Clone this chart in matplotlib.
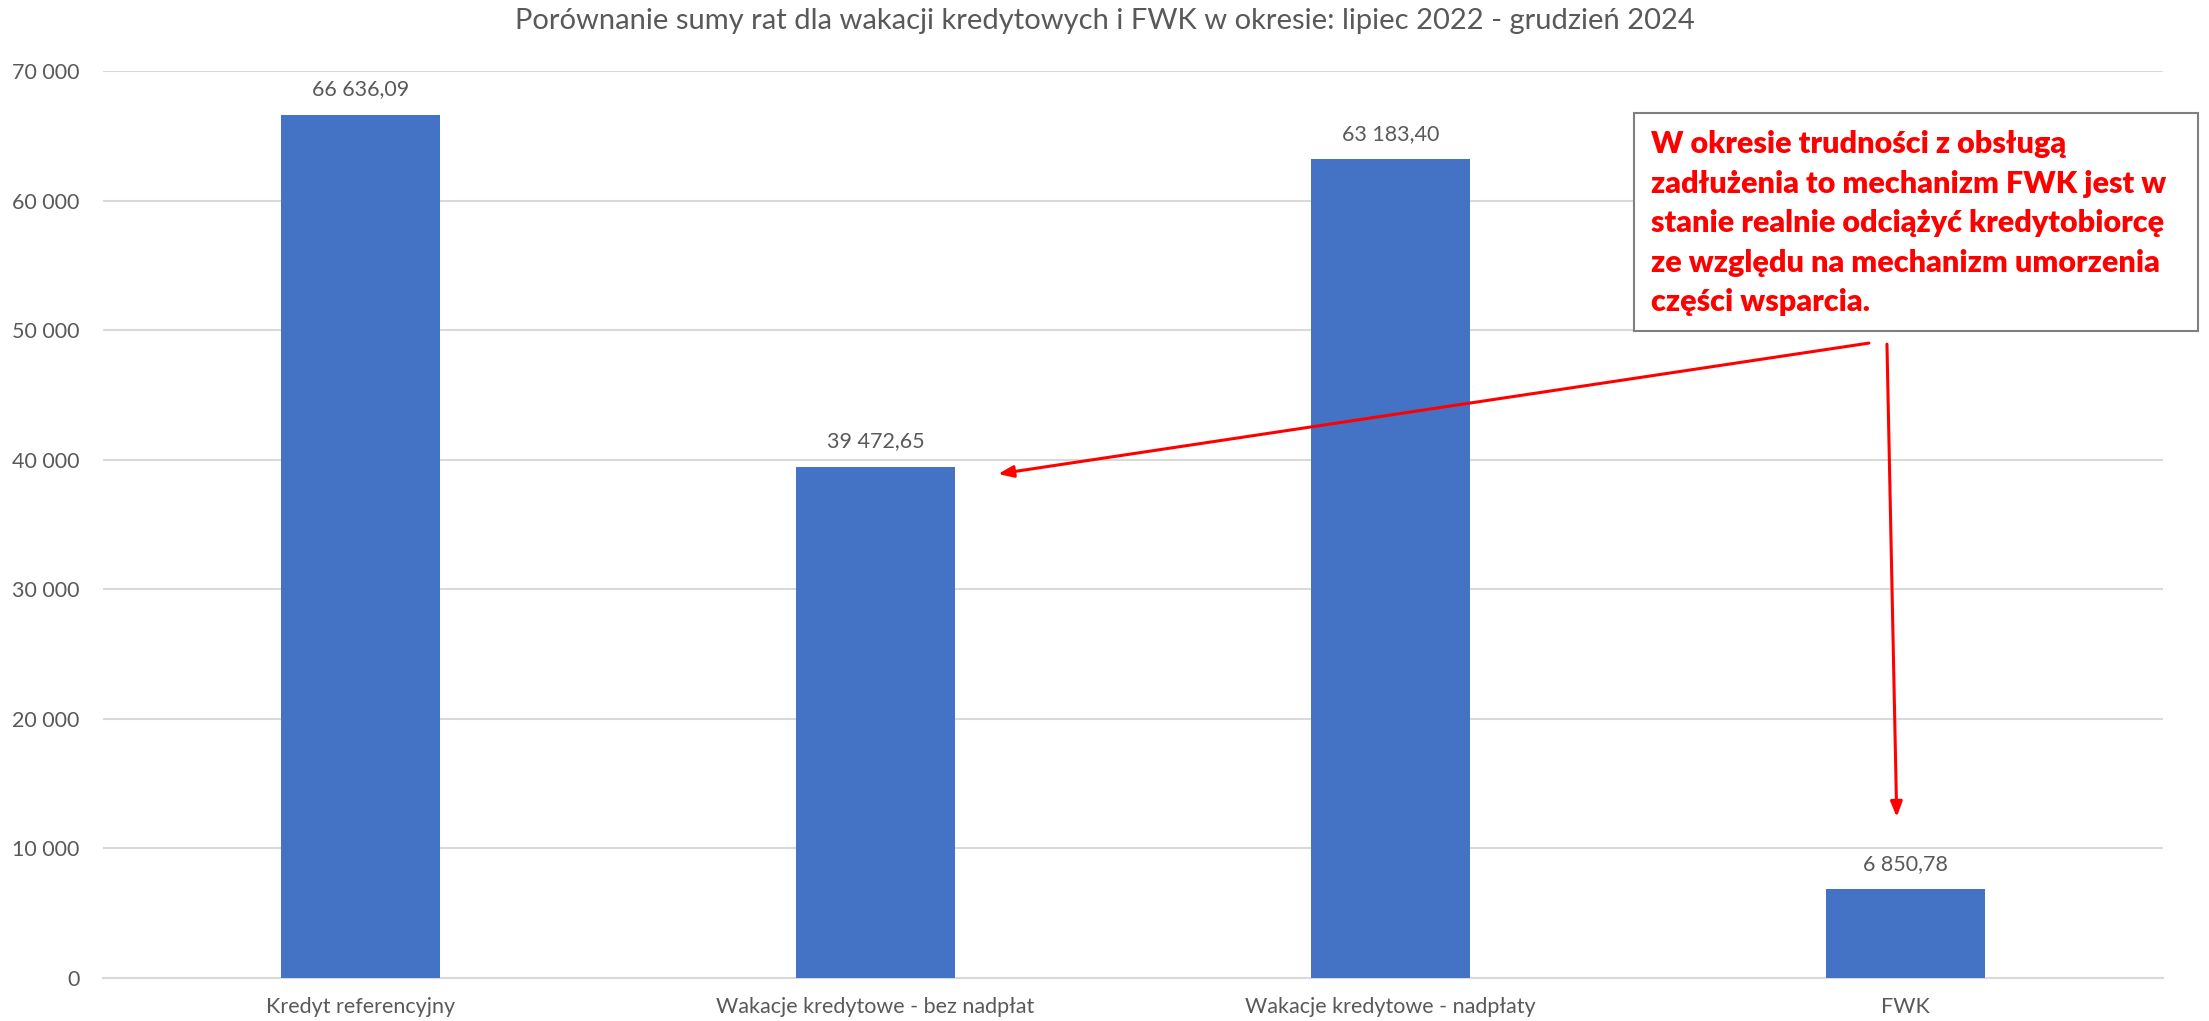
import matplotlib
matplotlib.use('Agg')
import matplotlib.pyplot as plt
import matplotlib.patches as patches
from matplotlib.ticker import FuncFormatter

plt.rcParams['font.family'] = ['Lato', 'DejaVu Sans']

categories = ['Kredyt referencyjny', 'Wakacje kredytowe - bez nadpłat',
              'Wakacje kredytowe - nadpłaty', 'FWK']
values = [66636.09, 39472.65, 63183.40, 6850.78]
title = 'Porównanie sumy rat dla wakacji kredytowych i FWK w okresie: lipiec 2022 - grudzień 2024'
note = ('W okresie trudności z obsługą\n'
        'zadłużenia to mechanizm FWK jest w\n'
        'stanie realnie odciążyć kredytobiorcę\n'
        'ze względu na mechanizm umorzenia\n'
        'części wsparcia.')

BAR = '#4472C4'
GRID = '#D9D9D9'
TEXT = '#595959'
RED = '#FF0000'

W, H = 2209, 1021


def pl_thousands(v):
    return '{:,.0f}'.format(v).replace(',', ' ')


def pl_money(v):
    return '{:,.2f}'.format(v).replace(',', ' ').replace('.', ',')


fig = plt.figure(figsize=(W / 100, H / 100), dpi=100)
ax = fig.add_axes([103 / W, 1 - 978 / H, (2163 - 103) / W, (978 - 71) / H])

x = range(len(categories))
bars = ax.bar(x, values, width=0.31, color=BAR, zorder=3)
for b, v in zip(bars, values):
    ax.annotate(pl_money(v), (b.get_x() + b.get_width() / 2, v),
                xytext=(0, 11), textcoords='offset points',
                ha='center', va='bottom', fontsize=15.5, color=TEXT)

ax.set_xlim(-0.5, len(categories) - 0.5)
ax.set_ylim(0, 70000)
ax.set_yticks(range(0, 70001, 10000))
ax.yaxis.set_major_formatter(FuncFormatter(lambda v, p: pl_thousands(v)))
ax.set_xticks(list(x))
ax.set_xticklabels(categories)
ax.tick_params(axis='both', length=0, labelsize=15.5, labelcolor=TEXT)
ax.tick_params(axis='y', pad=17)
ax.tick_params(axis='x', pad=14)
ax.yaxis.grid(True, color=GRID, linewidth=1.5, zorder=0)
ax.set_axisbelow(True)
for side in ['top', 'right', 'left']:
    ax.spines[side].set_visible(False)
ax.spines['bottom'].set_color(GRID)
ax.spines['bottom'].set_linewidth(1.5)

fig.text(0.5, 1 - 21 / H, title, ha='center', va='center', fontsize=21, color=TEXT)

# callout box
box = patches.Rectangle((1634 / W, 1 - 331 / H), (2198 - 1634) / W, (331 - 113) / H,
                        transform=fig.transFigure, facecolor='white',
                        edgecolor='#7F7F7F', linewidth=1.5, zorder=5)
fig.add_artist(box)
fig.text(1651 / W, 1 - 130 / H, note, ha='left', va='top', fontsize=22,
         fontweight='heavy', color=RED, linespacing=1.5, zorder=6)

# arrows from the callout to the bars
arrow = dict(arrowstyle='-|>,head_length=0.9,head_width=0.35', color=RED, lw=2.2,
             shrinkA=0, shrinkB=0)
ax.annotate('', xy=(1.238, 38900), xytext=(2.929, 49000), arrowprops=arrow,
            annotation_clip=False)
ax.annotate('', xy=(2.983, 12420), xytext=(2.964, 48920), arrowprops=arrow,
            annotation_clip=False)

fig.savefig('out.png', dpi=100)
